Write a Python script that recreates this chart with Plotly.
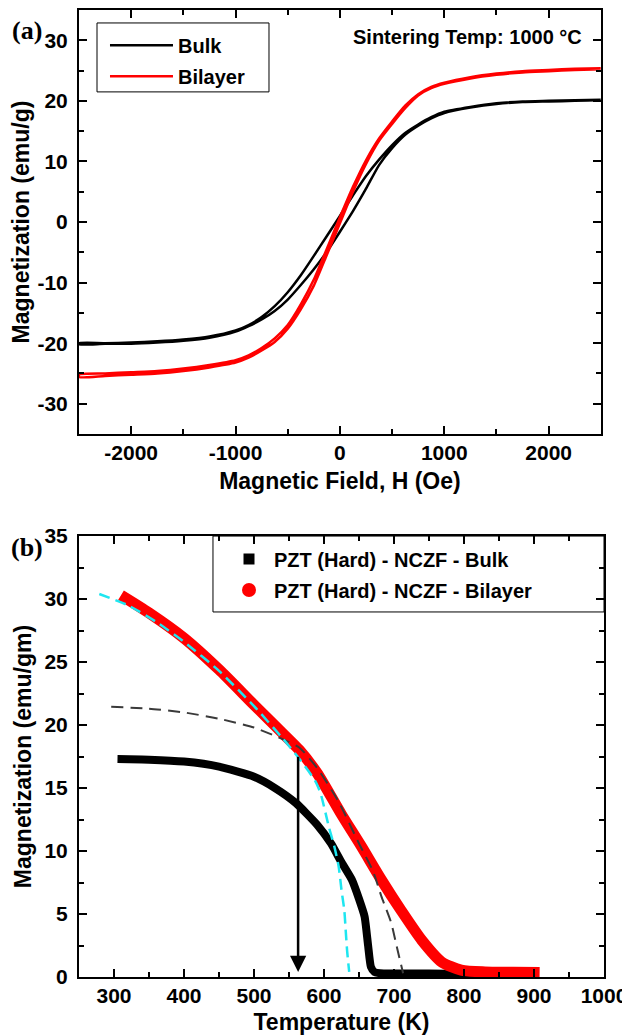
import plotly.graph_objects as go

# ---------------- Panel (a): hysteresis loops ----------------
H_GRID = [-2500, -2250, -2000, -1750, -1500, -1250, -1000, -875, -750, -625, -500, -375,
          -250, -125, 0, 125, 250, 375, 500, 625, 750, 875, 1000, 1250, 1500, 1750, 2000, 2250, 2500]
# descending branch (coming from +H), ascending branch (coming from -H)
BULK_DESC = [-20.0, -20.0, -19.9, -19.7, -19.4, -18.9, -17.9, -17.0, -15.7, -13.9, -11.6, -8.8,
             -5.6, -2.3, 1.0, 4.4, 7.6, 10.3, 12.7, 14.7, 16.1, 17.3, 18.2, 19.0, 19.6, 19.9, 20.0, 20.1, 20.2]
BULK_ASC = [-20.2, -20.1, -20.1, -19.9, -19.6, -19.1, -18.1, -17.2, -16.1, -14.7, -12.8, -10.4,
            -7.8, -4.9, -1.6, 1.8, 5.5, 9.4, 12.2, 14.4, 15.9, 17.1, 18.0, 18.9, 19.5, 19.8, 19.9, 20.0, 20.1]
BIL_DESC = [-25.2, -25.0, -24.8, -24.6, -24.2, -23.6, -22.8, -22.0, -20.8, -19.2, -17.0, -13.6,
            -9.5, -4.4, 0.8, 5.8, 10.2, 13.8, 16.6, 19.2, 21.1, 22.3, 23.0, 23.9, 24.5, 24.9, 25.1, 25.3, 25.4]
BIL_ASC = [-25.6, -25.4, -25.2, -25.0, -24.6, -24.0, -23.2, -22.4, -21.2, -19.8, -17.6, -14.4,
           -10.5, -5.4, -0.2, 5.0, 9.6, 13.4, 16.2, 18.8, 20.9, 22.1, 22.8, 23.7, 24.3, 24.7, 24.9, 25.1, 25.2]

A_XTICKS = [-2000, -1000, 0, 1000, 2000]
A_XTEXT = ["-2000", "-1000", "0", "1000", "2000"]
A_YTICKS = [-30, -20, -10, 0, 10, 20, 30]
A_YTEXT = ["-30", "-20", "-10", "0", "10", "20", "30"]

# ---------------- Panel (b): M vs T ----------------
BULK_T = [305, 350, 400, 450, 500, 530, 560, 590, 610, 625, 640, 650, 658, 663, 667, 672, 680,
          700, 750, 800, 850, 905]
BULK_M = [17.3, 17.25, 17.1, 16.7, 15.9, 15.0, 13.8, 12.1, 10.6, 9.1, 7.7, 6.2, 4.8, 2.5, 0.8,
          0.4, 0.3, 0.28, 0.27, 0.25, 0.25, 0.25]
BIL_T = [310, 350, 400, 450, 500, 540, 565, 590, 625, 653, 681, 710, 740, 768, 796, 830, 870, 908]
BIL_M = [30.3, 28.9, 26.9, 24.4, 21.6, 19.4, 18.0, 16.2, 12.9, 10.4, 7.8, 5.3, 2.9, 1.2, 0.55,
         0.4, 0.38, 0.35]
FIT_BIL_T = [279, 320, 360, 400, 450, 500, 540, 565, 587, 595, 607, 615, 621, 625, 629, 631, 633, 636]
FIT_BIL_M = [30.4, 29.5, 28.2, 26.6, 24.3, 21.5, 19.0, 17.3, 15.6, 14.6, 11.9, 10.3, 8.75, 6.9,
             5.3, 3.7, 2.1, 0.4]
FIT_BULK_T = [296, 350, 400, 450, 500, 540, 565, 590, 620, 650, 670, 682, 696, 704, 713]
FIT_BULK_M = [21.45, 21.3, 21.0, 20.5, 19.8, 18.9, 18.2, 16.6, 14.0, 10.6, 8.4, 6.4, 4.3, 2.4, 0.3]
ARROW_T = 563
ARROW_FROM_M = 17.6
ARROW_TO_M = 0.4

B_XTICKS = [300, 400, 500, 600, 700, 800, 900, 1000]
B_YTICKS = [0, 5, 10, 15, 20, 25, 30, 35]

FONT = "Liberation Sans, Arial, sans-serif"
SERIF = "Liberation Serif, Times New Roman, serif"
TICKFONT = dict(family=FONT, size=21, color="black", weight="bold")
TITLEFONT = dict(family=FONT, size=23, color="black", weight="bold")
LEGFONT = dict(family=FONT, size=20, color="black", weight="bold")

fig = go.Figure()

# panel (a)
fig.add_trace(go.Scatter(x=H_GRID[::-1] + H_GRID, y=BULK_DESC[::-1] + BULK_ASC, mode="lines",
                         line=dict(color="black", width=2.5, shape="spline", smoothing=0.6), name="Bulk",
                         xaxis="x", yaxis="y", legend="legend", legendgroup="a1"))
fig.add_trace(go.Scatter(x=H_GRID[::-1] + H_GRID, y=BIL_DESC[::-1] + BIL_ASC, mode="lines",
                         line=dict(color="#ff0000", width=2.5, shape="spline", smoothing=0.6), name="Bilayer",
                         xaxis="x", yaxis="y", legend="legend", legendgroup="a2"))

# panel (b)
fig.add_trace(go.Scatter(x=BULK_T, y=BULK_M, mode="lines",
                         line=dict(color="black", width=8, shape="spline", smoothing=0.5),
                         showlegend=False, xaxis="x2", yaxis="y2"))
fig.add_trace(go.Scatter(x=BIL_T, y=BIL_M, mode="lines",
                         line=dict(color="#ff0000", width=11, shape="spline", smoothing=0.7),
                         showlegend=False, xaxis="x2", yaxis="y2"))
fig.add_trace(go.Scatter(x=FIT_BULK_T, y=FIT_BULK_M, mode="lines",
                         line=dict(color="#3a3a3a", width=2, dash="12px,7px", shape="spline", smoothing=0.6),
                         showlegend=False, xaxis="x2", yaxis="y2"))
fig.add_trace(go.Scatter(x=FIT_BIL_T, y=FIT_BIL_M, mode="lines",
                         line=dict(color="#1ee6f0", width=2.5, dash="11px,6px", shape="spline", smoothing=0.6),
                         showlegend=False, xaxis="x2", yaxis="y2"))
fig.add_trace(go.Scatter(x=[None], y=[None], mode="markers", name="PZT (Hard) - NCZF - Bulk",
                         marker=dict(symbol="square", color="black", size=11),
                         xaxis="x2", yaxis="y2", legend="legend2", legendgroup="b1"))
fig.add_trace(go.Scatter(x=[None], y=[None], mode="markers", name="PZT (Hard) - NCZF - Bilayer",
                         marker=dict(symbol="circle", color="#ff0000", size=14),
                         xaxis="x2", yaxis="y2", legend="legend2", legendgroup="b2"))

axis_common = dict(showline=True, linecolor="black", linewidth=2, mirror="ticks",
                   ticks="inside", ticklen=8, tickwidth=1.5, tickcolor="black",
                   showgrid=False, zeroline=False, tickfont=TICKFONT, automargin=False)

# the page body adds an 8px offset, so the figure is 8px smaller than the window
fig.update_layout(
    width=622, height=1027,
    margin=dict(l=71, r=26, t=2, b=58),
    paper_bgcolor="white", plot_bgcolor="white",
    font=dict(family=FONT, color="black"),
    xaxis=dict(axis_common, domain=[0, 0.994], anchor="y", range=[-2500, 2500],
               tickvals=A_XTICKS, ticktext=A_XTEXT, ticklabelstandoff=-1,
               minor=dict(ticks="inside", ticklen=5, tickwidth=1.5, tickcolor="black", dtick=500, tick0=0),
               title=dict(text="Magnetic Field, H (Oe)", font=TITLEFONT, standoff=10)),
    yaxis=dict(axis_common, domain=[0.5615, 1.0], anchor="x", range=[-35, 35],
               tickvals=A_YTICKS, ticktext=A_YTEXT, ticklabelstandoff=5,
               minor=dict(ticks="inside", ticklen=5, tickwidth=1.5, tickcolor="black", dtick=5, tick0=0),
               title=dict(text="Magnetization (emu/g)", font=TITLEFONT, standoff=6)),
    xaxis2=dict(axis_common, domain=[0, 1.0], anchor="y2", range=[250, 1000],
                tickvals=B_XTICKS, ticklabelstandoff=-1,
                minor=dict(ticks="inside", ticklen=5, tickwidth=1.5, tickcolor="black", dtick=50, tick0=0),
                title=dict(text="Temperature (K)", font=TITLEFONT, standoff=8)),
    yaxis2=dict(axis_common, domain=[0, 0.456], anchor="x2", range=[0, 35],
                tickvals=B_YTICKS, ticklabelstandoff=5,
                minor=dict(ticks="inside", ticklen=5, tickwidth=1.5, tickcolor="black", dtick=2.5, tick0=0),
                title=dict(text="Magnetization (emu/gm)", font=TITLEFONT, standoff=6)),
    legend=dict(x=0.0495, y=0.9836, xanchor="left", yanchor="top", bgcolor="rgba(0,0,0,0)",
                borderwidth=0, font=LEGFONT, itemwidth=63, tracegroupgap=2),
    legend2=dict(x=0.2762, y=0.4525, xanchor="left", yanchor="top", bgcolor="rgba(0,0,0,0)",
                 borderwidth=0, font=LEGFONT, itemwidth=40, tracegroupgap=2),
    shapes=[
        dict(type="rect", xref="paper", yref="paper", x0=0.0343, x1=0.3619, y0=0.9153, y1=0.9866,
             line=dict(color="black", width=1), fillcolor="white", layer="below"),
        dict(type="rect", xref="paper", yref="paper", x0=0.2552, x1=1.0, y0=0.3775, y1=0.456,
             line=dict(color="black", width=1), fillcolor="white", layer="below"),
    ],
    annotations=[
        dict(text="Sintering Temp: 1000 °C", xref="x domain", yref="y domain", x=0.967, y=0.936,
             xanchor="right", yanchor="middle", showarrow=False,
             font=dict(family=FONT, size=20, color="black", weight="bold")),
        dict(text="(a)", xref="paper", yref="paper", x=-0.099, y=0.979, xanchor="center",
             yanchor="middle", showarrow=False,
             font=dict(family=SERIF, size=26, color="black", weight="bold")),
        dict(text="(b)", xref="paper", yref="paper", x=-0.099, y=0.4437, xanchor="center",
             yanchor="middle", showarrow=False,
             font=dict(family=SERIF, size=26, color="black", weight="bold")),
        dict(x=ARROW_T, y=ARROW_TO_M, ax=ARROW_T, ay=ARROW_FROM_M, xref="x2", yref="y2",
             axref="x2", ayref="y2", showarrow=True, arrowhead=2, arrowsize=1.3, arrowwidth=2.5,
             arrowcolor="black", text=""),
    ],
)

fig.write_html("out.html")
